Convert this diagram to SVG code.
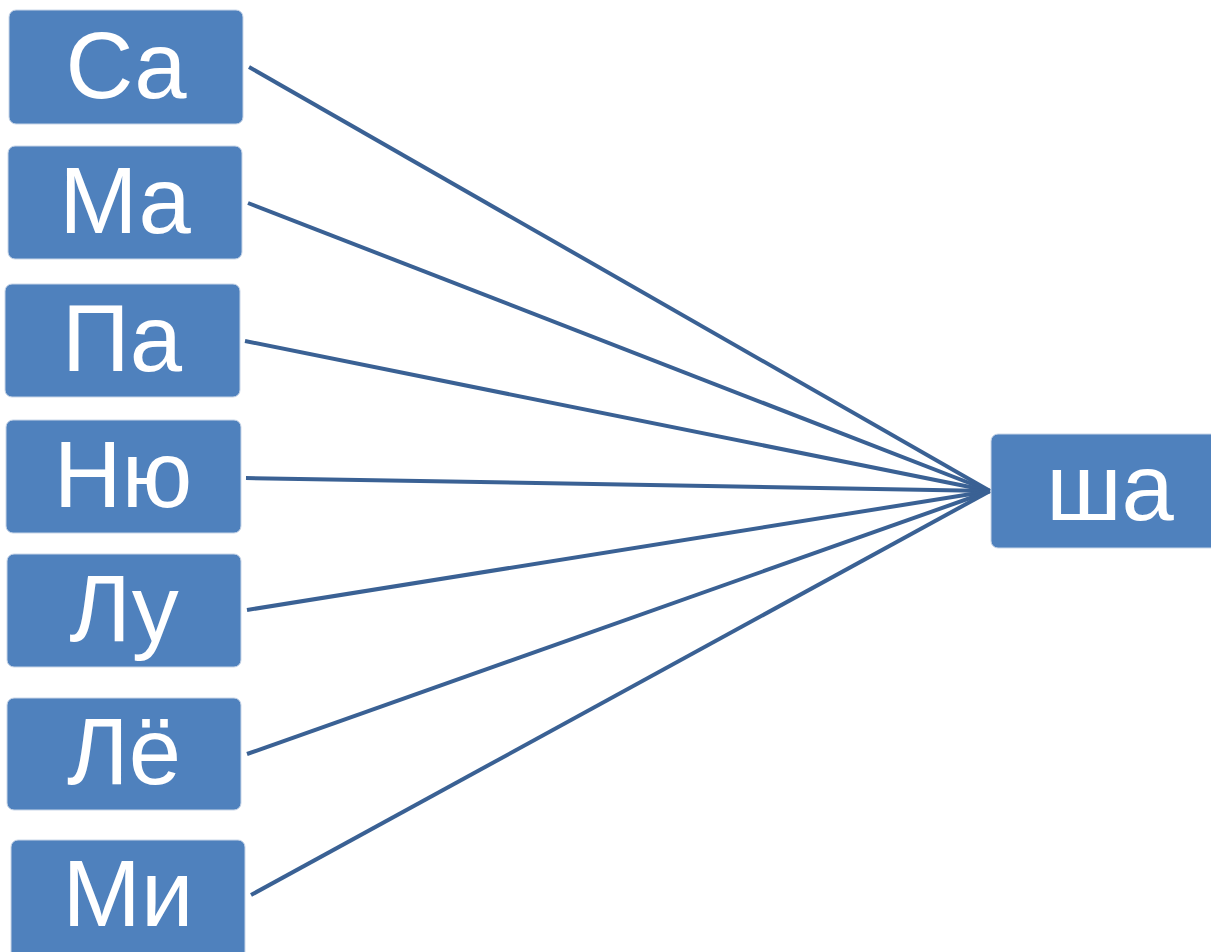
<svg xmlns="http://www.w3.org/2000/svg" width="1211" height="952" viewBox="0 0 1211 952">
<style>
.box{fill:#4f81bd;stroke:#c9d6e8;stroke-width:1}
.t{font-family:"Liberation Sans",Arial,sans-serif;font-size:94px;fill:#ffffff;text-anchor:middle}
.c{stroke:#3a6194;stroke-width:4;fill:none}
</style>
<rect width="1211" height="952" fill="#ffffff"/>
<g id="connectors">
<line class="c" x1="249" y1="67" x2="990" y2="491"/>
<line class="c" x1="248" y1="203" x2="990" y2="491"/>
<line class="c" x1="245" y1="341" x2="990" y2="491"/>
<line class="c" x1="246" y1="478" x2="990" y2="491"/>
<line class="c" x1="247" y1="610" x2="990" y2="491"/>
<line class="c" x1="247" y1="754" x2="990" y2="491"/>
<line class="c" x1="251" y1="895" x2="990" y2="491"/>
</g>
<g id="n1"><rect class="box" x="9" y="10" width="234" height="114" rx="7"/><text class="t" x="126" y="98">Са</text></g>
<g id="n2"><rect class="box" x="8" y="146" width="234" height="113" rx="7"/><text class="t" x="125" y="233">Ма</text></g>
<g id="n3"><rect class="box" x="5" y="284" width="235" height="113" rx="7"/><text class="t" x="122" y="371">Па</text></g>
<g id="n4"><rect class="box" x="6" y="420" width="235" height="113" rx="7"/><text class="t" x="123" y="507">Ню</text></g>
<g id="n5"><rect class="box" x="7" y="554" width="234" height="113" rx="7"/><text class="t" x="124" y="641">Лу</text></g>
<g id="n6"><rect class="box" x="7" y="698" width="234" height="112" rx="7"/><text class="t" x="124" y="784">Лё</text></g>
<g id="n7"><rect class="box" x="11" y="840" width="234" height="120" rx="7"/><text class="t" x="128" y="926">Ми</text></g>
<g id="n8"><rect class="box" x="991" y="434" width="240" height="114" rx="7"/><text class="t" x="1110" y="520">ша</text></g>
</svg>
